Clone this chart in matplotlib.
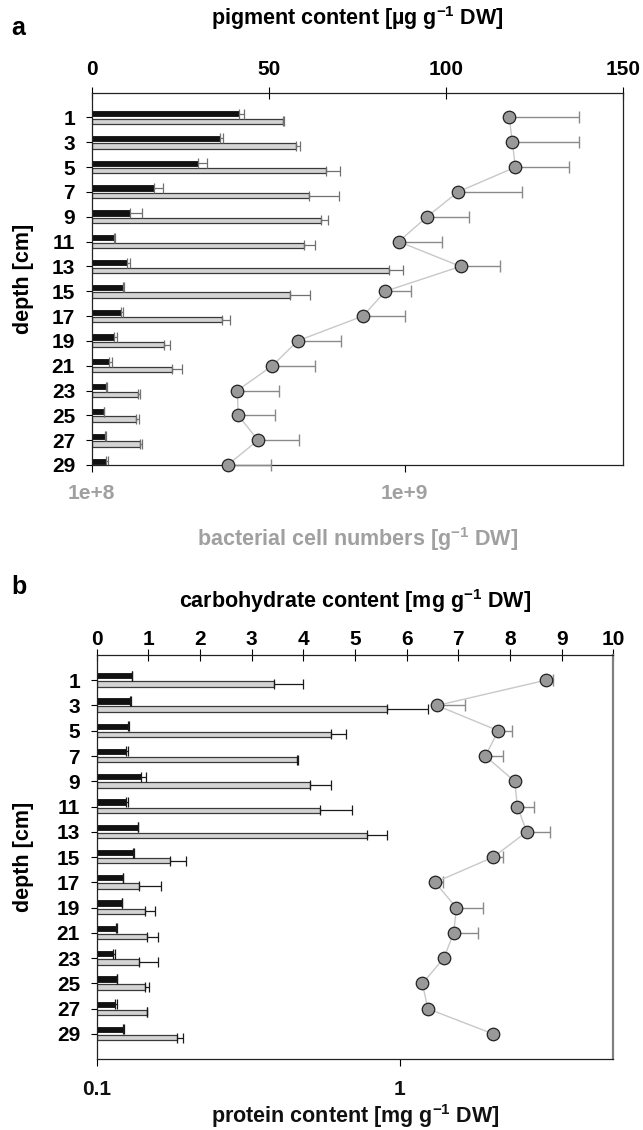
import numpy as np
import matplotlib
matplotlib.use("Agg")
import matplotlib.pyplot as plt
from matplotlib.ticker import NullLocator

plt.rcParams['font.family'] = ['Liberation Sans', 'DejaVu Sans']
plt.rcParams['font.weight'] = 'bold'
plt.rcParams['mathtext.fontset'] = 'custom'
plt.rcParams['mathtext.bf'] = 'Liberation Sans:bold'
plt.rcParams['mathtext.rm'] = 'Liberation Sans:bold'
plt.rcParams['mathtext.default'] = 'bf'

# sediment depth of each slice [cm]
depths = [1, 3, 5, 7, 9, 11, 13, 15, 17, 19, 21, 23, 25, 27, 29]

# (a) pigments [ug g-1 DW] and bacterial cell numbers [g-1 DW]
chla = [41.5, 36.2, 29.9, 17.5, 10.8, 6.3, 10.1, 8.7, 8.4, 6.4, 5.0, 3.9, 3.4, 3.7, 3.9]
chla_err = [1.5, 0.9, 2.6, 2.7, 3.3, 0.3, 0.7, 0.4, 0.5, 0.8, 0.7, 0.4, 0.2, 0.2, 0.8]
phaeo = [54.0, 57.6, 66.1, 61.4, 64.6, 59.9, 84.0, 55.9, 36.9, 20.3, 22.8, 13.2, 12.6, 13.6, np.nan]
phaeo_err = [0.3, 1.3, 3.9, 8.4, 2.1, 3.1, 3.8, 5.6, 2.1, 1.7, 2.8, 0.5, 0.7, 0.6, np.nan]
cells = [2.16e9, 2.21e9, 2.26e9, 1.48e9, 1.18e9, 9.57e8, 1.51e9, 8.68e8,
         7.36e8, 4.55e8, 3.78e8, 2.92e8, 2.94e8, 3.40e8, 2.72e8]
cells_err = [1.46e9, 1.41e9, 1.10e9, 8.9e8, 4.3e8, 3.6e8, 5.1e8, 1.8e8,
             2.7e8, 1.7e8, 1.4e8, 1.05e8, 9.2e7, 1.2e8, 1.03e8]
pig_ticks = [0, 50, 100, 150]
cell_ticks = [1e8, 1e9]
cell_tick_labels = ['1e+8', '1e+9']

# (b) carbohydrates and proteins [mg g-1 DW]
carb_col = [0.68, 0.645, 0.60, 0.567, 0.858, 0.56, 0.79, 0.71, 0.50, 0.48, 0.37, 0.31, 0.39, 0.35, 0.51]
carb_col_err = [0.01, 0.015, 0.025, 0.04, 0.09, 0.045, 0.01, 0.006, 0.015, 0.01, 0.02, 0.05, 0.005, 0.04, 0.01]
carb_tot = [3.43, 5.61, 4.53, 3.88, 4.13, 4.32, 5.23, 1.42, 0.82, 0.94, 0.97, 0.81, 0.94, 0.97, 1.55]
carb_tot_err = [0.56, 0.81, 0.30, 0.01, 0.40, 0.63, 0.38, 0.31, 0.425, 0.18, 0.22, 0.38, 0.08, 0.01, 0.12]
protein = [3.04, 1.33, 2.12, 1.92, 2.40, 2.45, 2.63, 2.04, 1.31, 1.54, 1.51, 1.40, 1.19, 1.24, 2.04]
protein_err = [0.18, 0.31, 0.24, 0.28, 0.0, 0.33, 0.51, 0.16, 0.08, 0.35, 0.31, 0.0, 0.0, 0.0, 0.0]
carb_ticks = list(range(0, 11))
prot_ticks = [0.1, 1]
prot_tick_labels = ['0.1', '1']

FS = 15
LABEL_FS = 15.5
BAR_H = 0.42
CIRCLE_GREY = '#999999'
LINE_GREY = '#c8c8c8'


def draw_panel(ax, dark, dark_err, light, light_err, err_color,
               pts, pts_err, ymax, xmax, ticks, log_lim, log_ticks, log_labels,
               top_label, bottom_label, bottom_color, dark_off, light_off, pads):
    top_pad, top_labelpad, bot_pad, bot_labelpad, y_labelpad = pads
    y = np.array(depths, dtype=float)
    zeros = np.zeros(len(depths))

    # log-scaled twin for the circles; twiny() moves the host ticks, so set up first
    ax2 = ax.twiny()

    ax.barh(y + dark_off, dark, height=BAR_H, color='#111111', edgecolor='#111111',
            linewidth=0.6, zorder=2)
    ax.barh(y + light_off, light, height=BAR_H, color='#d4d4d4', edgecolor='#3a3a3a',
            linewidth=0.9, zorder=2)
    ax.errorbar(dark, y + dark_off, xerr=[zeros, dark_err], fmt='none',
                ecolor=err_color, elinewidth=0.9, capsize=3.5, capthick=0.9, zorder=3)
    ax.errorbar(light, y + light_off, xerr=[zeros, light_err], fmt='none',
                ecolor=err_color, elinewidth=0.9, capsize=3.5, capthick=0.9, zorder=3)

    ax.set_xlim(0, xmax)
    ax.set_ylim(ymax, -1)
    ax.set_yticks(depths)
    ax.set_yticklabels([str(d) for d in depths])
    ax.xaxis.set_ticks_position('top')
    ax.xaxis.set_label_position('top')
    ax.set_xticks(ticks)
    ax.tick_params(axis='x', which='major', direction='inout', length=8, width=0.8,
                   pad=top_pad, labelsize=FS, top=True, bottom=False,
                   labeltop=True, labelbottom=False)
    ax.tick_params(axis='y', direction='out', length=4, width=0.8, pad=8, labelsize=FS)
    ax.set_xlabel(top_label, fontsize=LABEL_FS, fontweight='bold', labelpad=top_labelpad)
    ax.set_ylabel('depth [cm]', fontsize=LABEL_FS, fontweight='bold', labelpad=y_labelpad)
    ax.spines['bottom'].set_visible(False)
    for s in ('top', 'left'):
        ax.spines[s].set_color('#222222')
        ax.spines[s].set_linewidth(0.9)

    ax2.set_xscale('log')
    ax2.set_xlim(*log_lim)
    ax2.xaxis.set_ticks_position('bottom')
    ax2.xaxis.set_label_position('bottom')
    ax2.set_xticks(log_ticks)
    ax2.set_xticklabels(log_labels)
    ax2.xaxis.set_minor_locator(NullLocator())
    ax2.tick_params(axis='x', direction='out', length=5, width=0.8, pad=bot_pad,
                    labelsize=FS, labelcolor=bottom_color, top=False,
                    labeltop=False, bottom=True, labelbottom=True)
    ax2.set_xlabel(bottom_label, fontsize=LABEL_FS, fontweight='bold', color=bottom_color,
                   labelpad=bot_labelpad)
    for s in ('top', 'left', 'right'):
        ax2.spines[s].set_visible(False)
    ax2.spines['bottom'].set_color('#222222')
    ax2.spines['bottom'].set_linewidth(0.9)

    ax2.errorbar(pts, y, xerr=[zeros, pts_err], fmt='none', ecolor='#8a8a8a',
                 elinewidth=1.0, capsize=4, capthick=1.0, zorder=3, clip_on=False)
    ax2.plot(pts, y, color=LINE_GREY, linewidth=1.0, zorder=4, clip_on=False)
    ax2.plot(pts, y, linestyle='none', marker='o', markersize=9,
             markerfacecolor=CIRCLE_GREY, markeredgecolor='#222222',
             markeredgewidth=0.9, zorder=5, clip_on=False)
    return ax2


fig = plt.figure(figsize=(6.43, 11.3), dpi=100)

ax_a = fig.add_axes([0.1426, 0.5885, 0.8268, 0.3295])
draw_panel(ax_a, chla, chla_err, phaeo, phaeo_err, '#707070',
           cells, cells_err, 29, 150, pig_ticks, (1e8, 5.0e9), cell_ticks, cell_tick_labels,
           'pigment content [µg g$^{-1}$ DW]',
           'bacterial cell numbers [g$^{-1}$ DW]', '#a0a0a0', -0.31, 0.30,
           pads=(6, 25, 8.5, 16, 13))
ax_a.spines['right'].set_color('#222222')
ax_a.spines['right'].set_linewidth(0.9)

ax_b = fig.add_axes([0.1504, 0.0626, 0.8034, 0.3578])
draw_panel(ax_b, carb_col, carb_col_err, carb_tot, carb_tot_err, '#1a1a1a',
           protein, protein_err, 31, 10, carb_ticks, (0.1, 5.08), prot_ticks, prot_tick_labels,
           'carbohydrate content [mg g$^{-1}$ DW]',
           'protein content [mg g$^{-1}$ DW]', '#111111', -0.36, 0.29,
           pads=(0, 16, 10, 2, 16))
ax_b.spines['right'].set_color('#808080')
ax_b.spines['right'].set_linewidth(1.6)

fig.text(0.018, 0.975, 'a', fontsize=18, fontweight='bold', va='center')
fig.text(0.018, 0.4805, 'b', fontsize=18, fontweight='bold', va='center')

fig.savefig('out.png', dpi=100)
